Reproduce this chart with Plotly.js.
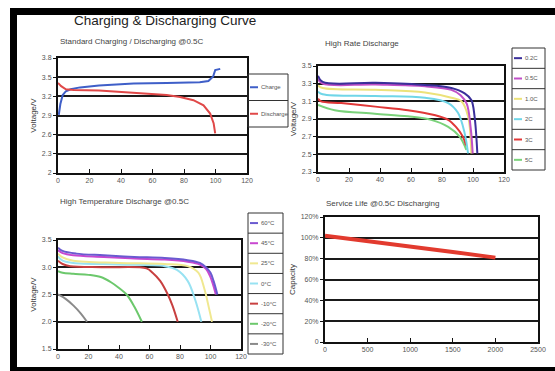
<!DOCTYPE html>
<html><head><meta charset="utf-8">
<script src="https://cdn.plot.ly/plotly-3.0.1.min.js"></script>
<style>html,body{margin:0;padding:0;background:#fff}#chart{width:555px;height:371px}</style>
</head><body><div id="chart"></div>
<script>
// ---------- DATA ----------
// Panel 1: Standard Charging / Discharging @0.5C (time min, voltage V)
const chargeTime = [0.5, 1.5, 3, 5, 8, 14, 26, 48, 69, 90, 95.5, 98.5, 99.8, 103];
const chargeVolt = [2.91, 3.08, 3.22, 3.28, 3.31, 3.34, 3.37, 3.40, 3.41, 3.42, 3.44, 3.51, 3.61, 3.63];
const dischargeTime = [0, 2, 5, 10, 26, 48, 69, 77.5, 86, 92.4, 96.6, 98.8, 99.8];
const dischargeVolt = [3.41, 3.36, 3.31, 3.30, 3.29, 3.26, 3.22, 3.19, 3.14, 3.06, 2.93, 2.78, 2.62];
const stdNames = ['Charge', 'Discharge'];

// Panel 2: High Rate Discharge
const rateNames = ['0.2C', '0.5C', '1.0C', '2C', '3C', '5C'];
const rateTime = [
  [0, 3, 37, 69, 86, 94.6, 98.9, 101, 102.8],
  [0, 3, 37, 69, 86, 92, 96, 98.5, 99.8],
  [0, 3, 37, 69, 86, 92.5, 96.8, 98.9],
  [0, 3, 37, 69, 84, 90.3, 94.6, 96.8],
  [0, 2, 15, 37, 58, 75, 84, 89, 93.5, 95.5],
  [0, 10.8, 36.6, 58, 73, 84, 91.4, 95.7]
];
const rateVolt = [
  [3.39, 3.32, 3.31, 3.285, 3.25, 3.19, 3.115, 2.93, 2.51],
  [3.35, 3.30, 3.29, 3.27, 3.23, 3.17, 3.07, 2.80, 2.51],
  [3.28, 3.25, 3.23, 3.20, 3.14, 3.10, 2.93, 2.51],
  [3.21, 3.18, 3.16, 3.14, 3.08, 2.97, 2.74, 2.51],
  [3.13, 3.10, 3.08, 3.04, 3.00, 2.945, 2.89, 2.81, 2.70, 2.60],
  [3.06, 3.00, 2.96, 2.93, 2.89, 2.81, 2.70, 2.55]
];

// Panel 3: High Temperature Discharge @0.5C
const tempNames = ['60°C', '45°C', '25°C', '0°C', '-10°C', '-20°C', '-30°C'];
const tempTime = [
  [0, 3, 12, 30, 50, 70, 85, 93, 97, 100, 102, 104.5],
  [0, 3, 10, 30, 50, 70, 85, 93, 97, 99.5, 101.5, 103.5],
  [0, 3, 10, 40, 70, 85, 92, 96, 99, 101],
  [0, 3, 10, 40, 70, 78, 85, 90, 94],
  [0, 3, 8, 30, 58, 62, 67, 72, 75, 78.5],
  [0, 3, 10, 20, 28, 35, 40, 45, 50, 55],
  [0, 5, 10, 15, 19]
];
const tempVolt = [
  [3.36, 3.30, 3.25, 3.22, 3.19, 3.17, 3.13, 3.08, 3.00, 2.90, 2.75, 2.50],
  [3.31, 3.26, 3.22, 3.19, 3.16, 3.14, 3.10, 3.05, 2.97, 2.85, 2.70, 2.50],
  [3.25, 3.18, 3.12, 3.08, 3.06, 3.02, 2.90, 2.60, 2.25, 2.00],
  [3.20, 3.12, 3.08, 3.05, 3.02, 2.95, 2.75, 2.40, 2.00],
  [3.12, 3.06, 3.02, 3.00, 2.98, 2.90, 2.75, 2.50, 2.30, 2.00],
  [2.93, 2.90, 2.88, 2.86, 2.82, 2.72, 2.62, 2.50, 2.28, 2.00],
  [2.50, 2.42, 2.30, 2.15, 2.00]
];

// Panel 4: Service Life @0.5C Discharging
const lifeCycles = [0, 500, 1000, 1500, 2000];
const lifeCapacity = [102, 97, 92, 86.5, 81];
const lifeTickVals = [0, 20, 40, 60, 80, 100, 120];
const lifeTickText = ['0', '20%', '40%', '60%', '80%', '100%', '120%'];

// ---------- STYLE ----------
const W = 555, H = 371;
const px = x => x / W;
const py = y => 1 - y / H;
const FONT = 'Liberation Sans, Arial, sans-serif';
const stdColors = ['#3f5fc8', '#e04848'];
const rateColors = ['#3a2f9a', '#c050c8', '#ece27a', '#70d6e8', '#e03838', '#7ad27a'];
const tempColors = ['#6a5ad0', '#c848d0', '#f0e890', '#98e2f2', '#c84040', '#6cc86c', '#8a8a8a'];

const traces = [];
traces.push({x: chargeTime, y: chargeVolt, xaxis: 'x', yaxis: 'y', mode: 'lines', line: {color: stdColors[0], width: 2}, name: stdNames[0], showlegend: false});
traces.push({x: dischargeTime, y: dischargeVolt, xaxis: 'x', yaxis: 'y', mode: 'lines', line: {color: stdColors[1], width: 2}, name: stdNames[1], showlegend: false});
for (let i = rateNames.length - 1; i >= 0; i--) {
  traces.push({x: rateTime[i], y: rateVolt[i], xaxis: 'x2', yaxis: 'y2', mode: 'lines', line: {color: rateColors[i], width: 2, shape: 'spline'}, name: rateNames[i], showlegend: false});
}
for (let i = tempNames.length - 1; i >= 0; i--) {
  traces.push({x: tempTime[i], y: tempVolt[i], xaxis: 'x3', yaxis: 'y3', mode: 'lines', line: {color: tempColors[i], width: 2, shape: 'spline'}, name: tempNames[i], showlegend: false});
}
traces.push({x: lifeCycles, y: lifeCapacity, xaxis: 'x4', yaxis: 'y4', mode: 'lines', line: {color: '#e23a2e', width: 4}, name: 'Capacity', showlegend: false});

const base = {showline: true, mirror: true, linecolor: '#111', linewidth: 2, zeroline: false,
  tickfont: {family: FONT, size: 7, color: '#555'}, ticks: 'outside', ticklen: 3, tickcolor: '#111', fixedrange: true};
const xb = Object.assign({}, base, {showgrid: false, ticks: 'inside', ticklen: 4});
const yb = Object.assign({}, base, {showgrid: true, gridcolor: '#1a1a1a', gridwidth: 2});
const ytitle = t => ({text: t, font: {family: FONT, size: 8, color: '#333'}, standoff: 4});

const shapes = [];
const annotations = [];
// frame bars
[[10, 8, 555, 15], [10, 8, 17, 371], [10, 367, 555, 371]].forEach(r => {
  shapes.push({type: 'rect', xref: 'paper', yref: 'paper', x0: px(r[0]), x1: px(r[2]), y0: py(r[3]), y1: py(r[1]), fillcolor: '#000', line: {width: 0}});
});
// custom boxed legends
function boxLegend(names, colors, x0, y0, x1, y1) {
  const n = names.length, h = (y1 - y0) / n;
  shapes.push({type: 'rect', xref: 'paper', yref: 'paper', x0: px(x0), x1: px(x1), y0: py(y1), y1: py(y0), line: {color: '#333', width: 1}, fillcolor: 'rgba(0,0,0,0)'});
  names.forEach((nm, i) => {
    const yc = y0 + h * (i + 0.5);
    if (i > 0) shapes.push({type: 'line', xref: 'paper', yref: 'paper', x0: px(x0), x1: px(x1), y0: py(y0 + h * i), y1: py(y0 + h * i), line: {color: '#333', width: 1}});
    shapes.push({type: 'line', xref: 'paper', yref: 'paper', x0: px(x0 + 2), x1: px(x0 + 10), y0: py(yc), y1: py(yc), line: {color: colors[i], width: 2}});
    annotations.push({xref: 'paper', yref: 'paper', x: px(x0 + 10.5), y: py(yc), xanchor: 'left', yanchor: 'middle', showarrow: false, text: nm, font: {family: FONT, size: 6, color: '#555'}});
  });
}
boxLegend(stdNames, stdColors, 248, 74, 288, 127);
boxLegend(rateNames, rateColors, 512, 48, 545, 170);
boxLegend(tempNames, tempColors, 248, 213, 283, 354);

// titles
annotations.push({xref: 'paper', yref: 'paper', x: px(165), y: py(21), xanchor: 'center', yanchor: 'middle', showarrow: false, text: 'Charging & Discharging Curve', font: {family: FONT, size: 13.5, color: '#222'}});
[['Standard Charging / Discharging @0.5C', 58, 42], ['High Rate Discharge', 323, 43], ['High Temperature Discharge @0.5C', 58, 201], ['Service Life @0.5C Discharging', 324, 203]].forEach(t => {
  annotations.push({xref: 'paper', yref: 'paper', x: px(t[1]), y: py(t[2]), xanchor: 'left', yanchor: 'middle', showarrow: false, text: t[0], font: {family: FONT, size: 8, color: '#444'}});
});

const layout = {
  width: W, height: H, margin: {l: 0, r: 0, t: 0, b: 0}, paper_bgcolor: '#fff', plot_bgcolor: '#fff',
  showlegend: false, font: {family: FONT},
  xaxis: Object.assign({}, xb, {domain: [px(58), px(247)], range: [0, 120], dtick: 20, tick0: 0, anchor: 'y'}),
  yaxis: Object.assign({}, yb, {domain: [py(173), py(58)], range: [2, 3.8], dtick: 0.3, tick0: 2, anchor: 'x', title: ytitle('Voltage/V')}),
  xaxis2: Object.assign({}, xb, {domain: [px(318), px(504)], range: [0, 120], dtick: 20, tick0: 0, anchor: 'y2'}),
  yaxis2: Object.assign({}, yb, {domain: [py(172), py(66)], range: [2.3, 3.5], dtick: 0.2, tick0: 2.3, anchor: 'x2', title: ytitle('Voltage/V')}),
  xaxis3: Object.assign({}, xb, {domain: [px(58), px(241)], range: [0, 120], dtick: 20, tick0: 0, anchor: 'y3'}),
  yaxis3: Object.assign({}, yb, {domain: [py(349), py(240)], range: [1.5, 3.5], dtick: 0.5, tick0: 1.5, tickformat: '.1f', anchor: 'x3', title: ytitle('Voltage/V')}),
  xaxis4: Object.assign({}, xb, {domain: [px(325), px(538)], range: [0, 2500], dtick: 500, tick0: 0, anchor: 'y4'}),
  yaxis4: Object.assign({}, yb, {domain: [py(342), py(217)], range: [0, 120], tickvals: lifeTickVals, ticktext: lifeTickText, anchor: 'x4', title: ytitle('Capacity')}),
  shapes: shapes, annotations: annotations
};
Plotly.newPlot('chart', traces, layout, {displayModeBar: false, staticPlot: true});
</script>
</body></html>
